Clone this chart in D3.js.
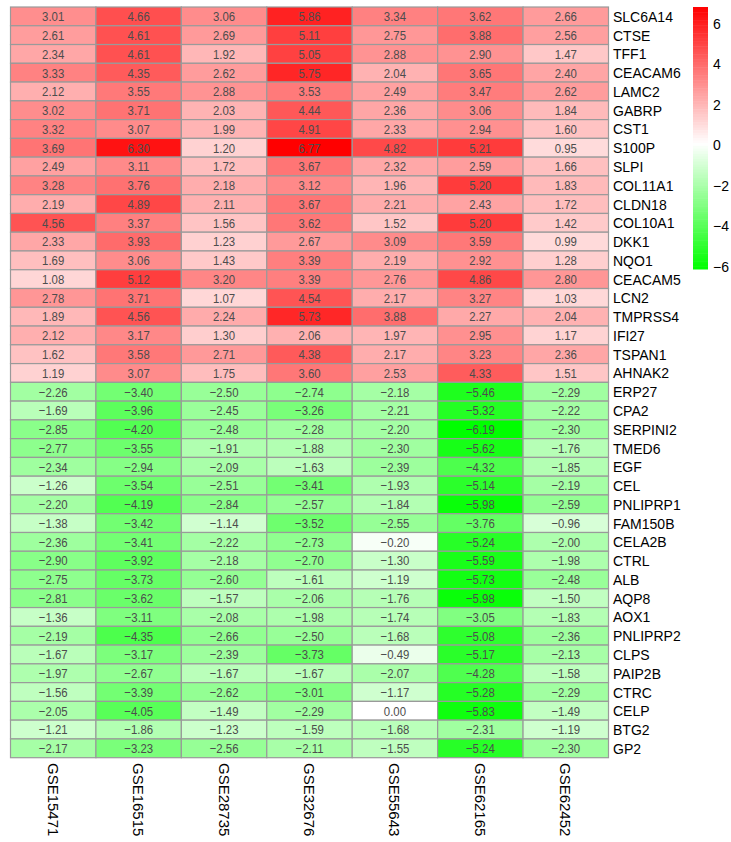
<!DOCTYPE html>
<html>
<head>
<meta charset="utf-8">
<script src="https://cdn.jsdelivr.net/npm/d3@7"></script>
<style>
  html, body { margin: 0; padding: 0; background: #fff; }
  svg { display: block; font-family: "Liberation Sans", Arial, sans-serif; }
</style>
</head>
<body>
<svg id="chart" width="731" height="842"></svg>
<script>
// Gene symbols (rows, top to bottom)
const genes = [
  "SLC6A14","CTSE","TFF1","CEACAM6","LAMC2","GABRP","CST1","S100P","SLPI","COL11A1",
  "CLDN18","COL10A1","DKK1","NQO1","CEACAM5","LCN2","TMPRSS4","IFI27","TSPAN1","AHNAK2",
  "ERP27","CPA2","SERPINI2","TMED6","EGF","CEL","PNLIPRP1","FAM150B","CELA2B","CTRL",
  "ALB","AQP8","AOX1","PNLIPRP2","CLPS","PAIP2B","CTRC","CELP","BTG2","GP2"
];

// GEO datasets (columns, left to right)
const datasets = ["GSE15471","GSE16515","GSE28735","GSE32676","GSE55643","GSE62165","GSE62452"];

// log2 fold change per dataset, in gene order
const GSE15471 = [3.01,2.61,2.34,3.33,2.12,3.02,3.32,3.69,2.49,3.28,2.19,4.56,2.33,1.69,1.08,2.78,1.89,2.12,1.62,1.19,
  -2.26,-1.69,-2.85,-2.77,-2.34,-1.26,-2.20,-1.38,-2.36,-2.90,-2.75,-2.81,-1.36,-2.19,-1.67,-1.97,-1.56,-2.05,-1.21,-2.17];
const GSE16515 = [4.66,4.61,4.61,4.35,3.55,3.71,3.07,6.30,3.11,3.76,4.89,3.37,3.93,3.06,5.12,3.71,4.56,3.17,3.58,3.07,
  -3.40,-3.96,-4.20,-3.55,-2.94,-3.54,-4.19,-3.42,-3.41,-3.92,-3.73,-3.62,-3.11,-4.35,-3.17,-2.67,-3.39,-4.05,-1.86,-3.23];
const GSE28735 = [3.06,2.69,1.92,2.62,2.88,2.03,1.99,1.20,1.72,2.18,2.11,1.56,1.23,1.43,3.20,1.07,2.24,1.30,2.71,1.75,
  -2.50,-2.45,-2.48,-1.91,-2.09,-2.51,-2.84,-1.14,-2.22,-2.18,-2.60,-1.57,-2.08,-2.66,-2.39,-1.67,-2.62,-1.49,-1.23,-2.56];
const GSE32676 = [5.86,5.11,5.05,5.75,3.53,4.44,4.91,6.77,3.67,3.12,3.67,3.62,2.67,3.39,3.39,4.54,5.73,2.06,4.38,3.60,
  -2.74,-3.26,-2.28,-1.88,-1.63,-3.41,-2.57,-3.52,-2.73,-2.70,-1.61,-2.06,-1.98,-2.50,-3.73,-1.67,-3.01,-2.29,-1.59,-2.11];
const GSE55643 = [3.34,2.75,2.88,2.04,2.49,2.36,2.33,4.82,2.32,1.96,2.21,1.52,3.09,2.19,2.76,2.17,3.88,1.97,2.17,2.53,
  -2.18,-2.21,-2.20,-2.30,-2.39,-1.93,-1.84,-2.55,-0.20,-1.30,-1.19,-1.76,-1.74,-1.68,-0.49,-2.07,-1.17,0.00,-1.68,-1.55];
const GSE62165 = [3.62,3.88,2.90,3.65,3.47,3.06,2.94,5.21,2.59,5.20,2.43,5.20,3.59,2.92,4.86,3.27,2.27,2.95,3.23,4.33,
  -5.46,-5.32,-6.19,-5.62,-4.32,-5.14,-5.98,-3.76,-5.24,-5.59,-5.73,-5.98,-3.05,-5.08,-5.17,-4.28,-5.28,-5.83,-2.31,-5.24];
const GSE62452 = [2.66,2.56,1.47,2.40,2.62,1.84,1.60,0.95,1.66,1.83,1.72,1.42,0.99,1.28,2.80,1.03,2.04,1.17,2.36,1.51,
  -2.29,-2.22,-2.30,-1.76,-1.85,-2.19,-2.59,-0.96,-2.00,-1.98,-2.48,-1.50,-1.83,-2.36,-2.13,-1.58,-2.29,-1.49,-1.19,-2.30];

// Legend tick labels
const legendTicks = [-6, -4, -2, 0, 2, 4, 6];

const columns = [GSE15471, GSE16515, GSE28735, GSE32676, GSE55643, GSE62165, GSE62452];

// Flatten into cells
const cells = [];
datasets.forEach((ds, j) => {
  genes.forEach((g, i) => cells.push({ gene: g, dataset: ds, value: columns[j][i] }));
});

const vMin = d3.min(cells, d => d.value);
const vMax = d3.max(cells, d => d.value);

// green -> white -> red, white anchored at zero
const color = d3.scaleLinear()
  .domain([vMin, 0, vMax])
  .range(["#00ff00", "#ffffff", "#ff0000"])
  .interpolate(d3.interpolateRgb);

const svg = d3.select("#chart");
svg.append("rect").attr("width", 731).attr("height", 842).attr("fill", "#fff");

const x = d3.scaleBand().domain(datasets).range([10.5, 608.5]);
const y = d3.scaleBand().domain(genes).range([7, 757.7]);

const fmt = d3.format(".2f");

const g = svg.append("g");

g.selectAll("rect.cell")
  .data(cells)
  .join("rect")
  .attr("class", "cell")
  .attr("x", d => x(d.dataset))
  .attr("y", d => y(d.gene))
  .attr("width", x.bandwidth())
  .attr("height", y.bandwidth())
  .attr("fill", d => color(d.value))
  .attr("stroke", "#9a9a9a")
  .attr("stroke-width", 1.2);

g.selectAll("text.num")
  .data(cells)
  .join("text")
  .attr("class", "num")
  .attr("transform", d => `translate(${x(d.dataset) + x.bandwidth() / 2},${y(d.gene) + y.bandwidth() / 2 + 0.5}) scale(0.95,1.12)`)
  .attr("text-anchor", "middle")
  .attr("dominant-baseline", "central")
  .attr("font-size", 12)
  .attr("fill", "#4d4d4d")
  .text(d => fmt(d.value));

// Row labels
svg.append("g")
  .selectAll("text")
  .data(genes)
  .join("text")
  .attr("x", 613)
  .attr("y", d => y(d) + y.bandwidth() / 2 + 0.5)
  .attr("dominant-baseline", "central")
  .attr("font-size", 14)
  .attr("fill", "#000")
  .text(d => d);

// Column labels, rotated to read downward
svg.append("g")
  .selectAll("text")
  .data(datasets)
  .join("text")
  .attr("transform", d => `translate(${x(d) + x.bandwidth() / 2},763) rotate(90)`)
  .attr("dominant-baseline", "central")
  .attr("font-size", 15)
  .attr("fill", "#000")
  .text(d => d);

// Colour legend
const yL = d3.scaleLinear().domain([vMax, vMin]).range([7, 269]);
const steps = d3.range(0, 100);
const stepVal = (vMax - vMin) / steps.length;
const legend = svg.append("g");
legend.selectAll("rect")
  .data(steps)
  .join("rect")
  .attr("x", 693)
  .attr("y", i => yL(vMax - i * stepVal))
  .attr("width", 15)
  .attr("height", i => yL(vMax - (i + 1) * stepVal) - yL(vMax - i * stepVal) + 0.5)
  .attr("fill", i => color(vMax - (i + 0.5) * stepVal));

const axis = d3.axisRight(yL)
  .tickValues(legendTicks)
  .tickSize(0)
  .tickPadding(5)
  .tickFormat(d3.format("d"));

legend.append("g")
  .attr("transform", "translate(708,1.5)")
  .call(axis)
  .call(s => s.select(".domain").remove())
  .call(s => s.selectAll("text")
    .attr("font-size", 14)
    .attr("font-family", "Liberation Sans, Arial, sans-serif")
    .attr("fill", "#000"));
</script>
</body>
</html>
